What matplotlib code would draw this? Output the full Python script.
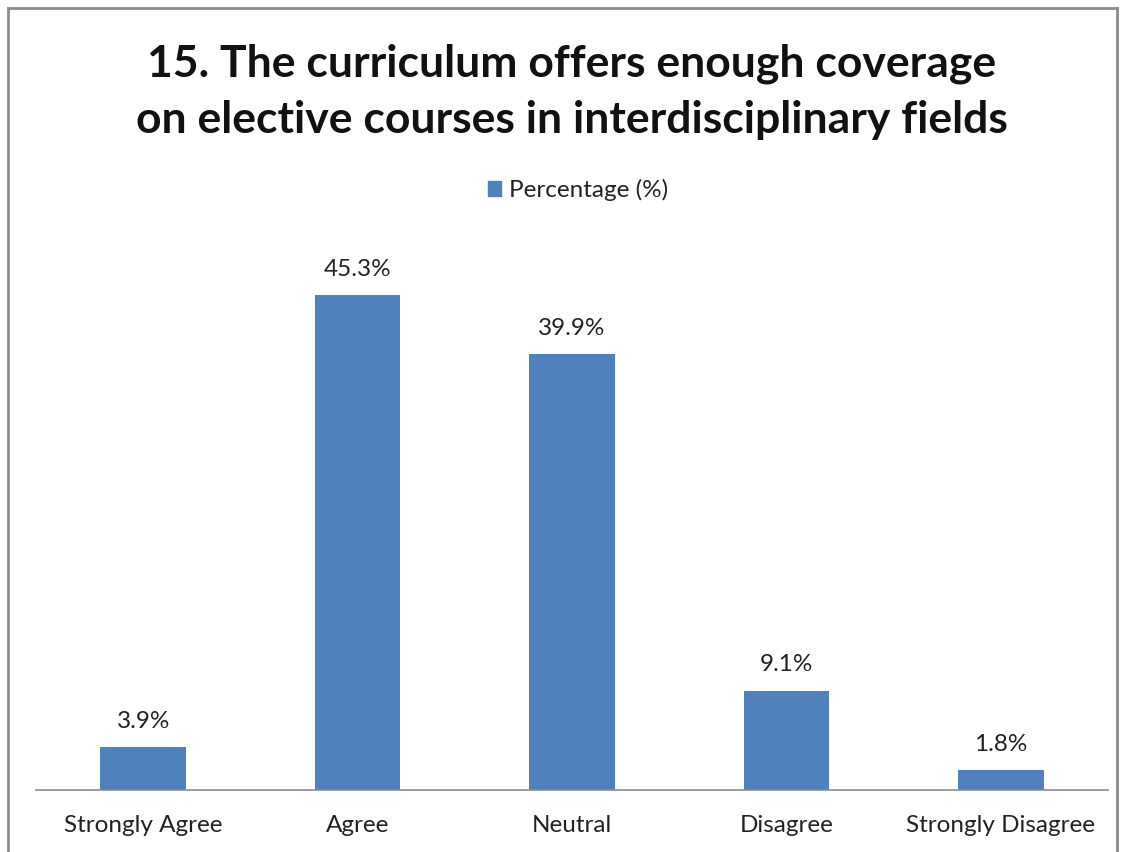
import matplotlib
matplotlib.use("Agg")
import matplotlib.pyplot as plt
from matplotlib.patches import Rectangle
from matplotlib.lines import Line2D

categories = ["Strongly Agree", "Agree", "Neutral", "Disagree", "Strongly Disagree"]
values = [3.9, 45.3, 39.9, 9.1, 1.8]
series_name = "Percentage (%)"
title = "15. The curriculum offers enough coverage\non elective courses in interdisciplinary fields"

W, H = 1125, 852
fig = plt.figure(figsize=(W / 100, H / 100), dpi=100)
plt.rcParams['font.family'] = ['Lato', 'DejaVu Sans']

# outer border
fig.add_artist(Line2D([8 / W, 8 / W], [0, 1 - 8 / H], transform=fig.transFigure, color="#8c8c8c", lw=2))
fig.add_artist(Line2D([8 / W, 1117 / W], [1 - 8 / H, 1 - 8 / H], transform=fig.transFigure, color="#8c8c8c", lw=2))
fig.add_artist(Line2D([1117 / W, 1117 / W], [0, 1 - 8 / H], transform=fig.transFigure, color="#8c8c8c", lw=2))

ax = fig.add_axes([36 / W, 1 - 790 / H, (1108 - 36) / W, (790 - 243.5) / H])
color = "#4f81bd"
x = range(len(categories))
bars = ax.bar(x, values, width=0.4, color=color, label=series_name)
ax.set_xlim(-0.5, len(categories) - 0.5)
ax.set_ylim(0, 50)
for s in ["top", "left", "right"]:
    ax.spines[s].set_visible(False)
ax.spines["bottom"].set_color("#8c8c8c")
ax.spines["bottom"].set_linewidth(1.2)
ax.set_yticks([])
ax.set_xticks(list(x))
ax.set_xticklabels(categories, fontsize=17.5, color="#222222")
ax.tick_params(axis="x", length=0, pad=18)

for b, v in zip(bars, values):
    ax.annotate(f"{v}%", (b.get_x() + b.get_width() / 2, v), xytext=(0, 11),
                textcoords="offset points", ha="center", va="bottom", fontsize=17.5, color="#222222")

fig.text(572 / W, 1 - 92 / H, title, ha="center", va="center", fontsize=32, fontweight="bold",
         linespacing=1.5, color="#111111")

leg = fig.legend(handles=[Rectangle((0, 0), 1, 1, color=color)], labels=[series_name],
                 loc="center", bbox_to_anchor=(578 / W, 1 - 190 / H), frameon=False,
                 fontsize=17.5, handlelength=0.55, handleheight=0.55, handletextpad=0.35)
for t in leg.get_texts():
    t.set_color("#222222")

fig.savefig("out.png", dpi=100)
